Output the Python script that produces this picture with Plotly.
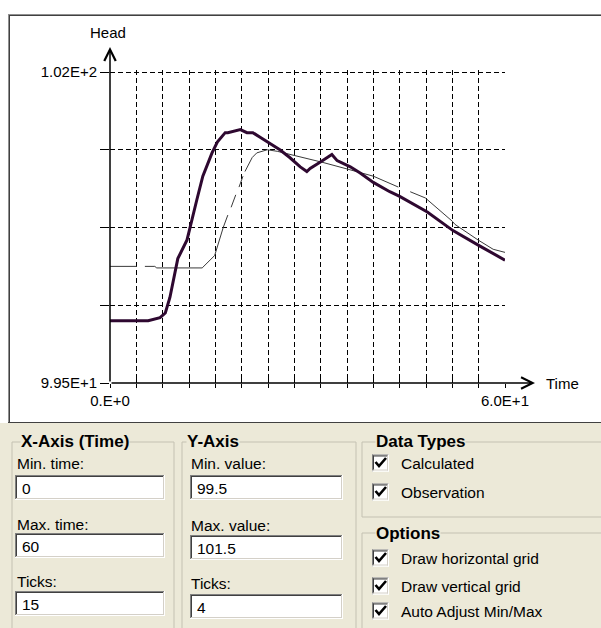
import plotly.graph_objects as go

# ---------------- data ----------------
# Calculated head (thick curve)
calc_time = [0, 5.8, 7.6, 8.4, 9.1, 9.9, 10.3, 11.7, 12.5, 13.2, 14.1, 15.5, 16.3,
             17.5, 17.9, 18.7, 19.8, 20.8, 21.7, 22.8, 24.3, 25.8, 27.3, 28.9, 29.9,
             30.4, 31.9, 33.7, 34.5, 36.5, 38.0, 40.0, 42.5, 44.0, 48.2, 52.1, 56.2, 60.0]
calc_head = [99.90, 99.90, 99.92, 99.95, 100.05, 100.23, 100.30, 100.42, 100.57, 100.68,
             100.83, 100.98, 101.05, 101.11, 101.11, 101.12, 101.13, 101.11, 101.11,
             101.08, 101.04, 101.00, 100.95, 100.89, 100.86, 100.88, 100.92, 100.97,
             100.93, 100.89, 100.85, 100.79, 100.73, 100.70, 100.60, 100.48, 100.38, 100.29]

# Observed head (thin curve); None marks breaks in the record
obs_time = [0, 4.1, None, 5.3, 6.8, 7.1, 14.0, 15.9, 17.2, 17.9, None, 18.4, 19.1,
            None, 19.6, 20.2, None, 20.5, 21.6, 22.3, 23.9, 25.4, 27.3, 29.6, 32.2,
            35.7, 40.0, 43.8, None, 45.6, 47.9, 52.0, 52.4, 55.9, 58.2, 60.0]
obs_head = [100.25, 100.25, None, 100.25, 100.25, 100.24, 100.24, 100.32, 100.50, 100.58,
            None, 100.63, 100.71, None, 100.76, 100.83, None, 100.86, 100.95, 100.98,
            101.00, 100.99, 100.97, 100.95, 100.92, 100.88, 100.83, 100.76, None,
            100.73, 100.69, 100.54, 100.52, 100.42, 100.36, 100.34]

x_ticks = [0, 4, 8, 12, 16, 20, 24, 28, 32, 36, 40, 44, 48, 52, 56, 60]
x_tick_text = ["0.E+0", "", "", "", "", "", "", "", "", "", "", "", "", "", "", "6.0E+1"]
y_ticks = [99.5, 100.0, 100.5, 101.0, 101.5]
y_tick_text = ["9.95E+1", "", "", "", "1.02E+2"]

x_min, x_max = 0, 60
y_min, y_max = 99.5, 101.5

# settings panel contents
x_settings = [("Min. time:", "0"), ("Max. time:", "60"), ("Ticks:", "15")]
y_settings = [("Min. value:", "99.5"), ("Max. value:", "101.5"), ("Ticks:", "4")]
data_types = ["Calculated", "Observation"]
options = ["Draw horizontal grid", "Draw vertical grid", "Auto Adjust Min/Max"]

# ---------------- geometry ----------------
W, H = 601, 628
L, R, B = 110, 505, 383      # left/right/bottom of the value frame (page px)
T_VAL = 72                    # page px of y_max
HEAD = 2                      # extra px above y_max so its grid line is kept
T = T_VAL - HEAD              # top of the plotting area
FONT = "Liberation Sans"
PANEL = "#ECE9D8"

px_per_unit = (B - T_VAL) / (y_max - y_min)
y_top = y_max + HEAD / px_per_unit


def px(x):
    return (x - L) / (R - L)


def py(y):
    return (B - y) / (B - T)


shapes = []
annotations = []


def rect(x0, y0, x1, y1, fill=None, color=None, width=1):
    shapes.append(dict(type="rect", xref="paper", yref="paper",
                       x0=px(x0), x1=px(x1), y0=py(y0), y1=py(y1),
                       fillcolor=fill or "rgba(0,0,0,0)",
                       line=dict(color=color or "rgba(0,0,0,0)", width=width if color else 0)))


def seg(x0, y0, x1, y1, color, width=1):
    shapes.append(dict(type="line", xref="paper", yref="paper",
                       x0=px(x0), x1=px(x1), y0=py(y0), y1=py(y1),
                       line=dict(color=color, width=width)))


def text(x, y, s, size=15.5, bold=False, anchor="left", bg=None):
    annotations.append(dict(xref="paper", yref="paper", x=px(x), y=py(y),
                            text=f"<b>{s}</b>" if bold else s, showarrow=False,
                            xanchor=anchor, yanchor="middle",
                            font=dict(family=FONT, size=size, color="black"),
                            bgcolor=bg, borderpad=0))


def sunken(x0, y0, x1, y1):
    rect(x0, y0, x1, y1, fill="white")
    seg(x0, y0 + 0.5, x1, y0 + 0.5, "#808080")
    seg(x0 + 1, y0 + 1.5, x1 - 1, y0 + 1.5, "#404040")
    seg(x0 + 0.5, y0, x0 + 0.5, y1, "#808080")
    seg(x0 + 1.5, y0 + 1, x0 + 1.5, y1 - 1, "#404040")
    seg(x0, y1 - 0.5, x1, y1 - 0.5, "#FFFFFF")
    seg(x0 + 1, y1 - 1.5, x1 - 1, y1 - 1.5, "#D4D0C8")
    seg(x1 - 0.5, y0, x1 - 0.5, y1, "#FFFFFF")
    seg(x1 - 1.5, y0 + 1, x1 - 1.5, y1 - 1, "#D4D0C8")


# ---------------- dialog frame ----------------
rect(0, 423, W + 2, H + 2, fill=PANEL)
seg(8, 14.5, W + 2, 14.5, "#909090", 1)
seg(9, 15.5, W + 2, 15.5, "#404040", 1)
seg(8.5, 14, 8.5, 423, "#909090", 1)
seg(9.5, 15, 9.5, 423, "#404040", 1)
seg(8, 422.5, W + 2, 422.5, "#404040", 1)

# group boxes
GB = "#C4C1B2"
rect(12, 442, 174, H + 20, color=GB)
rect(182, 442, 356, H + 20, color=GB)
rect(362, 442, W + 20, 517, color=GB)
rect(362, 533, W + 20, H + 20, color=GB)
text(20, 442, "X-Axis (Time)", size=17, bold=True, bg=PANEL)
text(186, 442, "Y-Axis", size=17, bold=True, bg=PANEL)
text(375, 441, "Data Types", size=17, bold=True, bg=PANEL)
text(375, 533, "Options", size=17, bold=True, bg=PANEL)

# axis settings: label + edit box
for (label, val), ly, by in zip(x_settings, [463, 524, 581], [475, 533, 591]):
    text(16, ly, label)
    sunken(15, by, 165, by + 25)
    text(21, by + 13.5, val)
for (label, val), ly, by in zip(y_settings, [463, 525, 583], [475, 535, 594]):
    text(190, ly, label)
    sunken(190, by, 343, by + 25)
    text(196, by + 13.5, val)

# check boxes
for label, cy in zip(data_types + options, [463, 492, 558, 586, 611]):
    sunken(372, cy - 8.5, 389, cy + 8.5)
    shapes.append(dict(type="path", xref="paper", yref="paper",
                       path=f"M{px(375.5)},{py(cy - 1)} L{px(379)},{py(cy + 3)} L{px(386)},{py(cy - 5)}",
                       line=dict(color="black", width=2.6)))
    text(400, cy, label)

# chart captions
text(108, 33, "Head", size=15, anchor="center")
text(545, 383, "Time", size=15)

# axis lines with open arrow heads
y_tip = y_max + 25 / px_per_unit
x_tip = x_max + (x_max - x_min) * 30 / (R - L)
for (hx, hy) in [(x_min, y_tip), (x_tip, y_min)]:
    annotations.append(dict(x=hx, y=hy, ax=x_min, ay=y_min, xref="x", yref="y",
                            axref="x", ayref="y", text="", showarrow=True,
                            arrowhead=5, arrowsize=1.5, arrowwidth=1.5,
                            arrowcolor="black", standoff=0, startstandoff=0))

# ---------------- traces ----------------
fig = go.Figure()
fig.add_trace(go.Scatter(x=obs_time, y=obs_head, mode="lines", name="Observation",
                         line=dict(color="#3a3a3a", width=1), connectgaps=False,
                         hoverinfo="skip"))
fig.add_trace(go.Scatter(x=calc_time, y=calc_head, mode="lines", name="Calculated",
                         line=dict(color="#2e0830", width=3), hoverinfo="skip"))
# carrier for the upper half of the crossing x ticks
fig.add_trace(go.Scatter(x=[], y=[], xaxis="x2", mode="lines", hoverinfo="skip"))

grid = dict(showgrid=True, gridcolor="black", gridwidth=1, griddash="5px,3px",
            zeroline=False, showline=False, tickcolor="black", tickwidth=1.3,
            tickfont=dict(family=FONT, size=15, color="black"), fixedrange=True)

fig.update_layout(
    width=W, height=H,
    margin=dict(l=L, r=W - R, t=T, b=H - B, pad=0),
    paper_bgcolor="white", plot_bgcolor="white",
    showlegend=False,
    font=dict(family=FONT, size=15, color="black"),
    xaxis=dict(range=[x_min, x_max], tickmode="array", tickvals=x_ticks,
               ticktext=x_tick_text, ticks="outside", ticklen=4, **grid),
    xaxis2=dict(range=[x_min, x_max], overlaying="x", anchor="y", side="bottom",
                tickmode="array", tickvals=x_ticks, ticks="inside", ticklen=5,
                tickcolor="black", tickwidth=1.3, showticklabels=False,
                showgrid=False, zeroline=False, showline=False, fixedrange=True),
    yaxis=dict(range=[y_min, y_top], tickmode="array", tickvals=y_ticks,
               ticktext=y_tick_text, ticks="outside", ticklen=9, **grid),
    shapes=shapes,
    annotations=annotations,
)

fig.write_html("out.html")
